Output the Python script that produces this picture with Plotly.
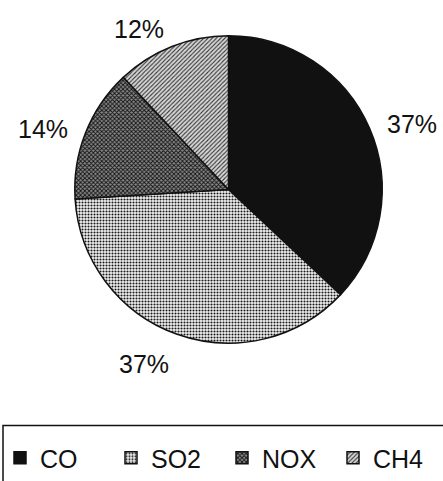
import math
import plotly.graph_objects as go

# Emission shares by gas
gases = ["CO", "SO2", "NOX", "CH4"]
shares = [37, 37, 14, 12]

fills = ["#111111", "#f4f4f4", "#8a8a8a", "#d8d8d8"]
pattern_shapes = ["", ".", "x", "/"]
pattern_fg = ["#111111", "#1a1a1a", "#111111", "#333333"]
pattern_solidity = [0.0, 0.4, 0.5, 0.35]

W, H = 443, 481
FONT = "Liberation Sans, Arial, Helvetica, sans-serif"

# pie placement in pixels (centre and radius)
CX, CY, R = 228.5, 191.0, 155.0
dom_x = [(CX - R) / W, (CX + R) / W]
dom_y = [1 - (CY + R) / H, 1 - (CY - R) / H]

fig = go.Figure(
    go.Pie(
        labels=gases,
        values=shares,
        sort=False,
        direction="clockwise",
        rotation=0,
        textinfo="none",
        hoverinfo="label+percent",
        marker=dict(
            colors=fills,
            line=dict(color="#111111", width=1.5),
            pattern=dict(
                shape=pattern_shapes,
                fgcolor=pattern_fg,
                bgcolor=fills,
                size=3,
                solidity=pattern_solidity,
            ),
        ),
        domain=dict(x=dom_x, y=dom_y),
        showlegend=True,
    )
)

# percentage labels outside each slice, placed along the slice's mid-angle
total = sum(shares)
annotations = []
cum = 0.0
label_dist = R * 1.10
text_h = 20
baseline_shift = 6
for v in shares:
    mid = (cum + v / 2) / total * 2 * math.pi
    cum += v
    s, c = math.sin(mid), math.cos(mid)
    px = CX + label_dist * s
    py = CY - label_dist * c - (text_h / 2) * c + baseline_shift
    annotations.append(
        dict(
            x=px / W,
            y=1 - py / H,
            xref="paper",
            yref="paper",
            text=f"{round(100 * v / total)}%",
            showarrow=False,
            xanchor="left" if s > 0 else "right",
            yanchor="middle",
            font=dict(family=FONT, size=25, color="#111111"),
        )
    )

fig.update_layout(
    width=W,
    height=H,
    margin=dict(l=0, r=0, t=0, b=0),
    paper_bgcolor="#ffffff",
    plot_bgcolor="#ffffff",
    font=dict(family=FONT, color="#111111"),
    annotations=annotations,
    legend=dict(
        orientation="h",
        x=11 / W,
        y=1 - 462 / H,
        xanchor="left",
        yanchor="middle",
        font=dict(size=25, color="#111111"),
        entrywidth=66,
        entrywidthmode="pixels",
        itemwidth=30,
        bgcolor="rgba(0,0,0,0)",
    ),
    shapes=[
        dict(
            type="rect",
            xref="paper",
            yref="paper",
            x0=3 / W,
            x1=1.02,
            y0=-0.02,
            y1=1 - 429 / H,
            line=dict(color="#111111", width=1.5),
        )
    ],
)

fig.write_html("out.html")
